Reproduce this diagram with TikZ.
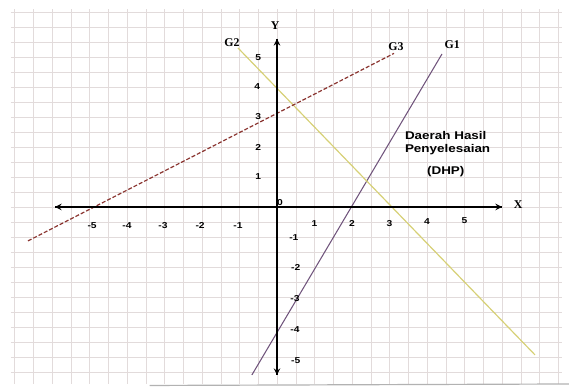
\documentclass[tikz,border=0pt]{standalone}
\usepackage{fontspec}
\setmainfont{Liberation Serif}
\newfontfamily\widesans[FakeStretch=1.2]{Liberation Sans}
\definecolor{gridcol}{RGB}{226,219,219}
\definecolor{gonecol}{RGB}{112,84,124}
\definecolor{gtwocol}{RGB}{214,208,118}
\definecolor{gthreecol}{RGB}{138,52,48}
\tikzset{
  axis/.style={line width=1.2pt,->,>=stealth},
  tick/.style={font=\widesans\bfseries\fontsize{6.5}{7}\selectfont,inner sep=0pt},
  glabel/.style={font=\bfseries\fontsize{9}{10}\selectfont,inner sep=0pt},
  dhptext/.style={font=\widesans\bfseries\fontsize{8.5}{9}\selectfont,inner sep=0pt}
}
\begin{document}
\begin{tikzpicture}[x=1cm,y=0.8cm]
			\useasboundingbox (-7.387,-6.033) rectangle (7.787,6.9);
			\draw[gridcol,line width=0.3pt,xstep=0.5cm,ystep=0.4cm] (-7.1,-5.9) grid (7.6,6.6);
			\draw[gray!60,line width=0.9pt] (-3.4,-5.95) -- (7.787,-5.9);
			\coordinate (xl) at (-5.92,0);
			\coordinate (xr) at (6.0,0);
			\coordinate (yt) at (0,5.6);
			\coordinate (yb) at (0,-5.6);
			\coordinate (a1) at (-0.67,-5.6);
			\coordinate (b1) at (4.4,5.1);
			\coordinate (a2) at (-1.04,5.3);
			\coordinate (b2) at (6.88,-4.93);
			\coordinate (a3) at (-6.64,-1.13);
			\coordinate (b3) at (3.12,5.12);
			\draw[gonecol,line width=0.8pt] (a1) to (b1);
			\draw[gtwocol,line width=0.9pt] (a2) to (b2);
			\draw[gthreecol,line width=0.9pt,dash pattern=on 3pt off 1.5pt] (a3) to (b3);
			\draw[axis] (xr) to (xl);
			\draw[axis] (xl) to (xr);
			\draw[axis] (yb) to (yt);
			\draw[axis] (yt) to (yb);
			\node[glabel] (ylab) at (-0.05,6.03) {Y};
			\node[glabel] (xlab) at (6.43,0.08) {X};
			\node[glabel] (g1) at (4.67,5.4) {G1};
			\node[glabel] (g2) at (-1.2,5.47) {G2};
			\node[glabel] (g3) at (3.17,5.35) {G3};
			\node[tick] (o) at (0.08,0.15) {0};
			\node[tick] (x1) at (1,-0.55) {1};
			\node[tick] (x2) at (2,-0.55) {2};
			\node[tick] (x3) at (3,-0.55) {3};
			\node[tick] (x4) at (4,-0.5) {4};
			\node[tick] (x5) at (5,-0.45) {5};
			\node[tick] (xm1) at (-1.04,-0.63) {-1};
			\node[tick] (xm2) at (-2.05,-0.63) {-2};
			\node[tick] (xm3) at (-3.04,-0.63) {-3};
			\node[tick] (xm4) at (-4,-0.63) {-4};
			\node[tick] (xm5) at (-4.93,-0.63) {-5};
			\node[tick] (y1) at (-0.5,1.03) {1};
			\node[tick] (y2) at (-0.5,1.97) {2};
			\node[tick] (y3) at (-0.5,3) {3};
			\node[tick] (y4) at (-0.53,4) {4};
			\node[tick] (y5) at (-0.5,4.97) {5};
			\node[tick] (ym1) at (0.45,-1.03) {-1};
			\node[tick] (ym2) at (0.5,-2.03) {-2};
			\node[tick] (ym3) at (0.48,-3.05) {-3};
			\node[tick] (ym4) at (0.48,-4.1) {-4};
			\node[tick] (ym5) at (0.5,-5.13) {-5};
			\node[dhptext] (dhp1) at (4.5,2.37) {Daerah Hasil};
			\node[dhptext] (dhp2) at (4.55,1.9) {Penyelesaian};
			\node[dhptext] (dhp3) at (4.5,1.17) {(DHP)};
		\end{tikzpicture}
\end{document}
